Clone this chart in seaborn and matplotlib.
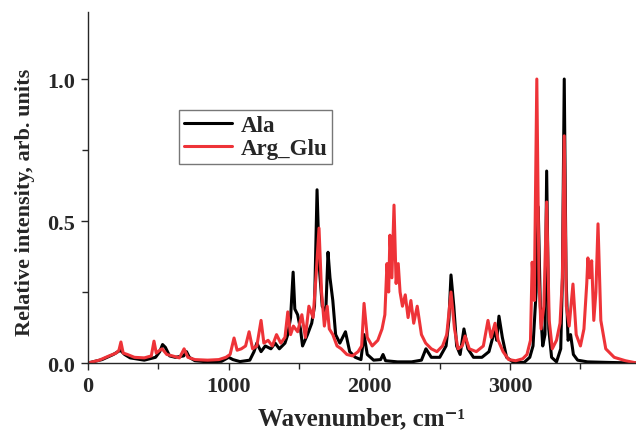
import numpy as np
import pandas as pd
import seaborn as sns
import matplotlib.pyplot as plt
from matplotlib.ticker import MultipleLocator, FormatStrFormatter

# Raman-type spectra, relative intensity vs wavenumber (cm^-1)
ala_wavenumber = [0, 100, 180, 230, 260, 300, 400, 480, 510, 530, 550, 580, 620, 680, 700, 720, 760,
                  850, 950, 1000, 1030, 1080, 1150, 1180, 1200, 1230, 1260, 1300, 1330, 1360, 1400,
                  1420, 1440, 1458, 1470, 1490, 1510, 1525, 1560, 1590, 1610, 1628, 1645, 1665, 1690,
                  1706, 1720, 1740, 1760, 1790, 1830, 1860, 1900, 1940, 1962, 1985, 2030, 2080, 2097,
                  2115, 2200, 2300, 2370, 2402, 2440, 2500, 2545, 2565, 2580, 2600, 2620, 2645, 2672,
                  2700, 2740, 2800, 2850, 2893, 2905, 2921, 2945, 2975, 3020, 3100, 3140, 3163, 3185,
                  3200, 3215, 3232, 3248, 3260, 3275, 3295, 3330, 3360, 3372, 3385, 3398, 3412, 3430,
                  3450, 3480, 3550, 3700, 3900]
ala_intensity = [0.0, 0.012, 0.03, 0.045, 0.03, 0.018, 0.01, 0.02, 0.04, 0.065, 0.055, 0.025, 0.02,
                 0.025, 0.04, 0.02, 0.008, 0.004, 0.006, 0.02, 0.012, 0.005, 0.01, 0.04, 0.07, 0.04,
                 0.06, 0.05, 0.07, 0.05, 0.07, 0.1, 0.16, 0.32, 0.19, 0.17, 0.12, 0.06, 0.1, 0.14,
                 0.2, 0.61, 0.33, 0.2, 0.18, 0.39, 0.3, 0.22, 0.1, 0.07, 0.11, 0.04, 0.02, 0.012,
                 0.1, 0.03, 0.01, 0.012, 0.03, 0.008, 0.004, 0.004, 0.01, 0.05, 0.02, 0.02, 0.06,
                 0.15, 0.31, 0.2, 0.06, 0.03, 0.12, 0.05, 0.02, 0.02, 0.04, 0.12, 0.08, 0.165, 0.09,
                 0.02, 0.004, 0.002, 0.02, 0.06, 0.25, 0.55, 0.2, 0.06, 0.1, 0.676, 0.12, 0.02,
                 0.004, 0.05, 0.3, 1.0, 0.3, 0.08, 0.1, 0.03, 0.01, 0.004, 0.002, 0.0]

arg_wavenumber = [0, 80, 150, 200, 220, 234, 250, 280, 330, 400, 450, 469, 485, 510, 527, 560, 600,
                  650, 683, 710, 760, 850, 930, 980, 1010, 1038, 1060, 1090, 1120, 1145, 1170, 1200,
                  1230, 1250, 1280, 1310, 1340, 1370, 1400, 1420, 1440, 1460, 1490, 1520, 1545,
                  1570, 1600, 1620, 1642, 1660, 1680, 1700, 1715, 1740, 1770, 1800, 1840, 1880,
                  1920, 1945, 1962, 1985, 2020, 2060, 2090, 2110, 2125, 2137, 2146, 2160, 2175,
                  2190, 2205, 2218, 2235, 2255, 2275, 2295, 2315, 2340, 2370, 2400, 2440, 2480,
                  2520, 2550, 2580, 2605, 2630, 2660, 2680, 2710, 2760, 2810, 2843, 2865, 2893,
                  2915, 2950, 2990, 3040, 3090, 3120, 3145, 3157, 3172, 3190, 3205, 3220, 3240,
                  3260, 3278, 3300, 3330, 3355, 3372, 3385, 3400, 3420, 3447, 3470, 3500, 3525,
                  3545, 3553, 3565, 3580, 3595, 3610, 3625, 3645, 3680, 3740, 3820, 3900]
arg_intensity = [0.0, 0.01, 0.025, 0.035, 0.045, 0.074, 0.035, 0.03, 0.02, 0.018, 0.025, 0.077,
                 0.035, 0.045, 0.05, 0.03, 0.025, 0.018, 0.05, 0.02, 0.012, 0.01, 0.012, 0.02,
                 0.03, 0.088, 0.045, 0.05, 0.06, 0.11, 0.05, 0.06, 0.15, 0.07, 0.08, 0.06, 0.1,
                 0.07, 0.09, 0.18, 0.1, 0.13, 0.11, 0.17, 0.09, 0.2, 0.16, 0.3, 0.475, 0.25, 0.13,
                 0.2, 0.12, 0.1, 0.06, 0.05, 0.03, 0.025, 0.04, 0.06, 0.21, 0.09, 0.06, 0.08,
                 0.12, 0.17, 0.35, 0.25, 0.45, 0.3, 0.556, 0.28, 0.35, 0.25, 0.2, 0.24, 0.16,
                 0.22, 0.14, 0.2, 0.1, 0.07, 0.05, 0.04, 0.06, 0.1, 0.25, 0.12, 0.05, 0.06,
                 0.095, 0.05, 0.04, 0.06, 0.15, 0.09, 0.14, 0.08, 0.04, 0.012, 0.008, 0.015,
                 0.03, 0.08, 0.355, 0.22, 1.0, 0.3, 0.12, 0.2, 0.567, 0.15, 0.05, 0.08, 0.14,
                 0.3, 0.8, 0.2, 0.13, 0.278, 0.1, 0.06, 0.12, 0.28, 0.37, 0.3, 0.36, 0.15, 0.25,
                 0.49, 0.15, 0.05, 0.02, 0.008, 0.0]

series_names = ["Ala", "Arg_Glu"]
series_colors = ["#000000", "#ee3338"]

df = pd.concat([
    pd.DataFrame({"wavenumber": ala_wavenumber, "intensity": ala_intensity, "sample": series_names[0]}),
    pd.DataFrame({"wavenumber": arg_wavenumber, "intensity": arg_intensity, "sample": series_names[1]}),
], ignore_index=True)

sns.set_style("ticks")
plt.rcParams["font.family"] = ["Liberation Serif", "DejaVu Serif"]
plt.rcParams["font.weight"] = "bold"

fig = plt.figure(figsize=(6.36, 4.35), dpi=100)
ax = fig.add_axes([88 / 636, 1 - 364 / 435, 548 / 636, 351 / 435])

sns.lineplot(data=df, x="wavenumber", y="intensity", hue="sample", hue_order=series_names,
             palette=series_colors, linewidth=2.2, sort=False, estimator=None, ax=ax)

ax.set_xlim(0, 3895)
ax.set_ylim(0, 1.236)
ax.xaxis.set_major_locator(MultipleLocator(1000))
ax.xaxis.set_minor_locator(MultipleLocator(500))
ax.yaxis.set_major_locator(MultipleLocator(0.5))
ax.yaxis.set_minor_locator(MultipleLocator(0.25))
ax.yaxis.set_major_formatter(FormatStrFormatter("%.1f"))
ax.tick_params(which="both", direction="out", width=1.0, labelsize=16, pad=4)
ax.tick_params(which="major", length=5)
ax.tick_params(which="minor", length=4)
for lbl in ax.get_xticklabels() + ax.get_yticklabels():
    lbl.set_fontweight("bold")

sns.despine(ax=ax, top=True, right=True)
for sp in ("left", "bottom"):
    ax.spines[sp].set_linewidth(1.0)

ax.set_xlabel("Wavenumber, cm\u207b\u00b9", fontsize=18, fontweight="bold", labelpad=8)
ax.set_ylabel("Relative intensity, arb. units", fontsize=16, fontweight="bold", labelpad=9, y=0.46)

leg = ax.legend(loc="upper left", bbox_to_anchor=(0.166, 0.72), borderaxespad=0.0,
                frameon=True, fancybox=False, edgecolor="#777777", framealpha=1,
                handlelength=2.1, borderpad=0.2, labelspacing=0.1, handletextpad=0.4,
                prop={"weight": "bold", "size": 16.5})
leg.get_frame().set_linewidth(1.0)

fig.savefig("out.png", dpi=100)
